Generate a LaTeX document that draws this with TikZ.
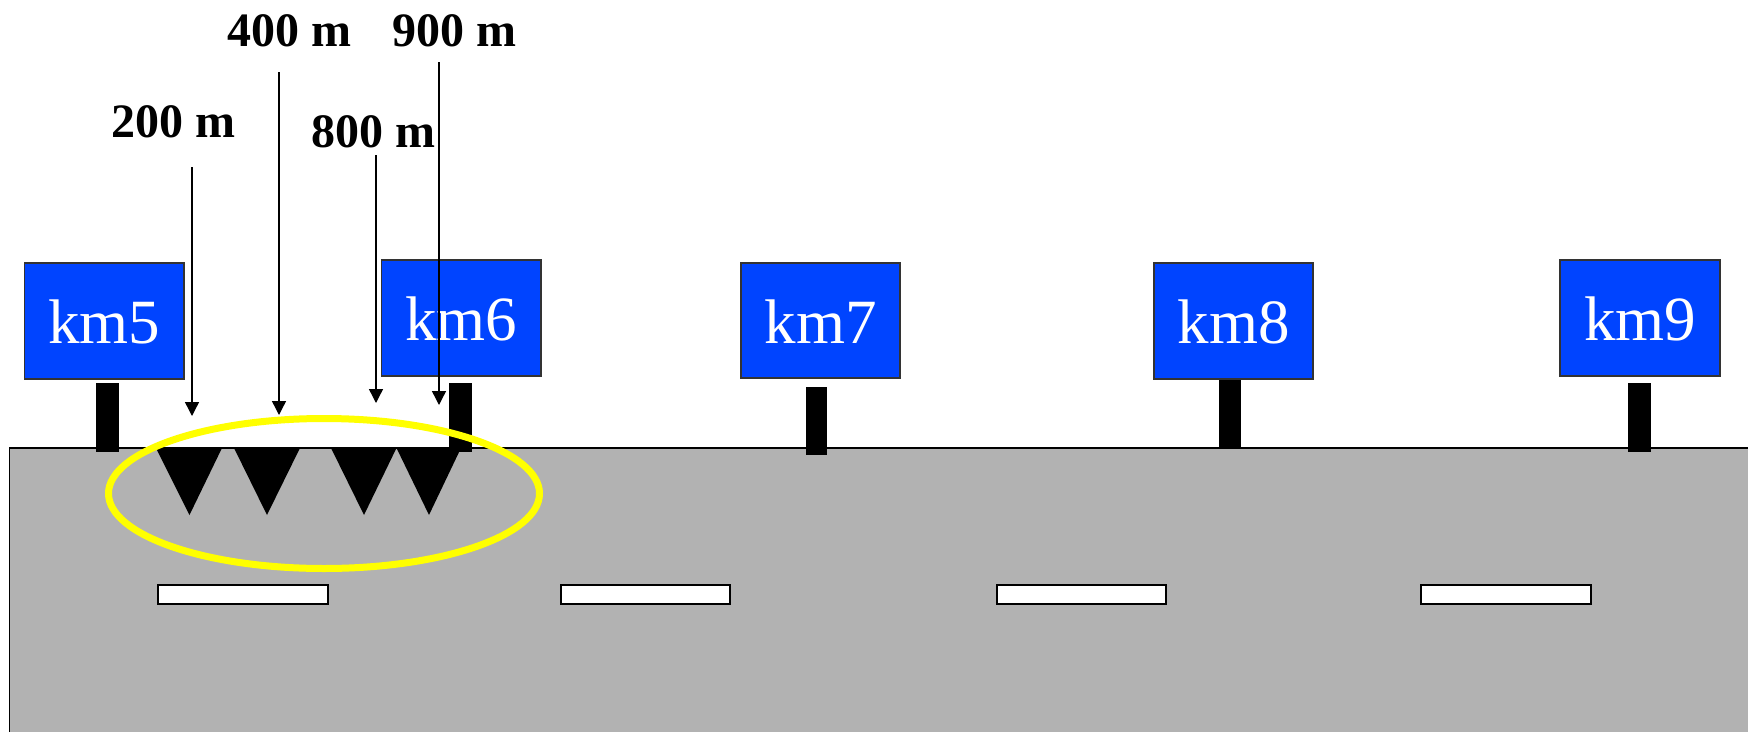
\documentclass[tikz,border=0pt]{standalone}
\usepackage{fontspec}
\setmainfont{Liberation Serif}
\usetikzlibrary{arrows.meta}
\definecolor{signblue}{RGB}{0,68,255}
\definecolor{roadgray}{RGB}{178,178,178}
\definecolor{ringyellow}{RGB}{255,255,0}
\tikzset{
  signbox/.style={draw=black!80, line width=1.2pt, fill=signblue},
  signtext/.style={text=white, font=\fontsize{63}{70}\selectfont, anchor=base, inner sep=0pt},
  post/.style={fill=black},
  lanedash/.style={draw=black, line width=1.5pt, fill=white},
  spike/.style={fill=black},
  distlabel/.style={font=\bfseries\fontsize{48}{54}\selectfont, anchor=base, inner sep=0pt},
  pointer/.style={line width=1.4pt, -{Triangle[length=14pt,width=14pt]}},
}
\begin{document}
\begin{tikzpicture}[x=1pt,y=-1pt]
\useasboundingbox (0,0) rectangle (1748,731);
\clip (0,0) rectangle (1748,731);
% road
\draw[fill=roadgray, line width=1.5pt] (9.6,448) rectangle (1770,760);
% lane dashes
\foreach \a/\b in {158/328, 561/730, 997/1166, 1421/1591}
  \draw[lanedash] (\a,585) rectangle (\b,604);
% signs
\foreach \n/\xa/\xb/\ya/\yb/\pa/\pb/\qa/\qb/\bl in {
  5/24.5/184/263/379/96/119/383/452/343,
  6/381.5/541/260/376/449/471.5/383/452/340,
  7/741/900/263/378/806/827/387/455/343,
  8/1154/1313/263/379/1219/1240.5/379/447/343,
  9/1560/1720/260/376/1628/1650.5/383/452/340}{
  \fill[post] (\pa,\qa) rectangle (\pb,\qb);
  \draw[signbox] (\xa,\ya) rectangle (\xb,\yb);
  \node[signtext] (km\n) at ({(\xa+\xb)/2},\bl) {km\n};
}
% spikes
\foreach \l/\r/\t in {156/222/189.5, 234/300/267, 331/396.5/364, 396.5/461/429}
  \fill[spike] (\l,448) -- (\r,448) -- (\t,515) -- cycle;
% ellipse
\draw[ringyellow, line width=7pt] (324,493.5) ellipse [x radius=215.5, y radius=75];
% labels
\node[distlabel] (l400) at (289.5,46) {400 m};
\node[distlabel] (l900) at (454,46) {900 m};
\node[distlabel] (l200) at (173.5,137) {200 m};
\node[distlabel] (l800) at (373,147) {800 m};
% pointers
\coordinate (s200) at (192,167); \coordinate (e200) at (192,416);
\coordinate (s400) at (279,72);  \coordinate (e400) at (279,415);
\coordinate (s800) at (376,155); \coordinate (e800) at (376,403);
\coordinate (s900) at (439,62);  \coordinate (e900) at (439,405);
\draw[pointer] (s200) -- (e200);
\draw[pointer] (s400) -- (e400);
\draw[pointer] (s800) -- (e800);
\draw[pointer] (s900) -- (e900);
\end{tikzpicture}
\end{document}
